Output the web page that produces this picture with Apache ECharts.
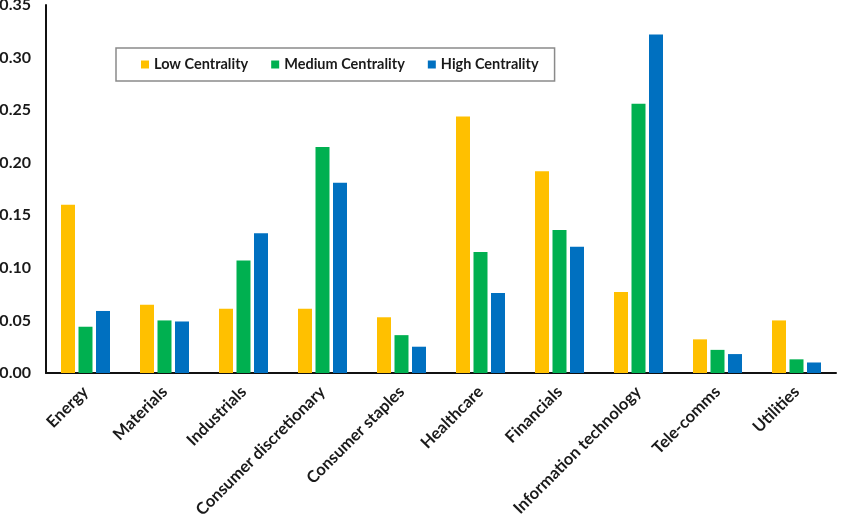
<!DOCTYPE html>
<html>
<head>
<meta charset="utf-8">
<script src="https://cdn.jsdelivr.net/npm/echarts@6/dist/echarts.min.js"></script>
<style>
  html, body { margin: 0; padding: 0; background: #fff; }
  #main { width: 851px; height: 531px; }
</style>
</head>
<body>
<div id="main"></div>
<script>
// sectors on the x axis
var sectors = ['Energy', 'Materials', 'Industrials', 'Consumer discretionary', 'Consumer staples',
  'Healthcare', 'Financials', 'Information technology', 'Tele-comms', 'Utilities'];
var yTicks = [0, 0.05, 0.10, 0.15, 0.20, 0.25, 0.30, 0.35];

// share per centrality group
var lowCentrality    = [0.160, 0.065, 0.061, 0.061, 0.053, 0.244, 0.192, 0.077, 0.032, 0.050];
var mediumCentrality = [0.044, 0.050, 0.107, 0.215, 0.036, 0.115, 0.136, 0.256, 0.022, 0.013];
var highCentrality   = [0.059, 0.049, 0.133, 0.181, 0.025, 0.076, 0.120, 0.322, 0.018, 0.010];

var chart = echarts.init(document.getElementById('main'));
var font = 'Lato, "Open Sans", sans-serif';

function bar(name, data, color) {
  return {
    name: name,
    type: 'bar',
    barWidth: 14,
    barGap: '25%',
    itemStyle: { color: color },
    data: data
  };
}

var option = {
  animation: false,
  backgroundColor: '#fff',
  textStyle: { fontFamily: font },
  legend: {
    left: 116,
    top: 48,
    icon: 'rect',
    itemWidth: 8,
    itemHeight: 8,
    itemGap: 23,
    padding: [9, 16, 9, 25],
    borderColor: '#8a8a8a',
    borderWidth: 1.5,
    textStyle: { fontSize: 14.5, fontWeight: 'bold', color: '#1a1a1a', fontFamily: font },
    data: ['Low Centrality', 'Medium Centrality', 'High Centrality']
  },
  // labels are allowed to run off the left edge, as in the original
  grid: { left: 46, right: 15, top: 5, bottom: 158, outerBoundsMode: 'none' },
  xAxis: {
    type: 'category',
    data: sectors,
    axisLine: { lineStyle: { color: '#111', width: 2 } },
    axisTick: { show: false },
    axisLabel: {
      rotate: 45,
      interval: 0,
      margin: 16,
      fontSize: 16.5,
      fontWeight: 'bold',
      color: '#1a1a1a',
      fontFamily: font
    }
  },
  yAxis: {
    type: 'value',
    min: yTicks[0],
    max: yTicks[yTicks.length - 1],
    interval: 0.05,
    axisLine: { show: true, lineStyle: { color: '#111', width: 2 } },
    axisTick: { show: false },
    splitLine: { show: false },
    axisLabel: {
      margin: 15,
      fontSize: 16,
      fontWeight: 'bold',
      color: '#1a1a1a',
      fontFamily: font,
      formatter: function (v) { return v.toFixed(2); }
    }
  },
  series: [
    bar('Low Centrality', lowCentrality, '#FFC000'),
    bar('Medium Centrality', mediumCentrality, '#00B050'),
    bar('High Centrality', highCentrality, '#0070C0')
  ]
};

chart.setOption(option);
</script>
</body>
</html>
